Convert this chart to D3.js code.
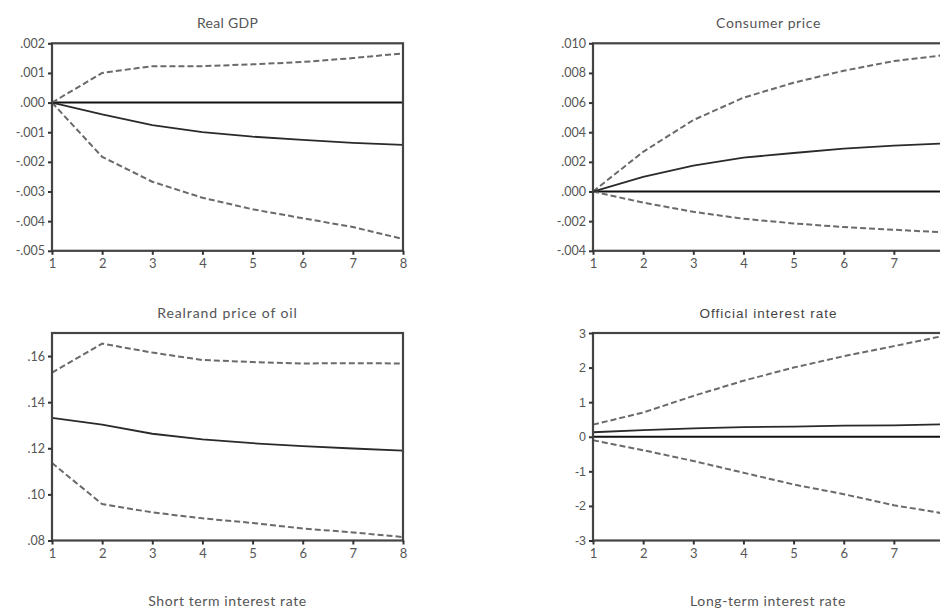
<!DOCTYPE html>
<html><head><meta charset="utf-8">
<script src="https://cdn.jsdelivr.net/npm/d3@7"></script>
<style>body{margin:0;background:#fff;overflow:hidden}svg{display:block}</style>
</head><body><svg id="c" width="940" height="608"></svg>
<script>
const periods = [1,2,3,4,5,6,7,8];

const gdpResp  = [0, -0.0004, -0.00076, -0.001, -0.00115, -0.00126, -0.00136, -0.00143];
const gdpUpper = [0, 0.001, 0.00123, 0.00123, 0.00129, 0.00137, 0.0015, 0.00166];
const gdpLower = [0, -0.00183, -0.00267, -0.00321, -0.0036, -0.0039, -0.0042, -0.0046];
const gdpTicks = [0.002,0.001,0,-0.001,-0.002,-0.003,-0.004,-0.005];

const cpiResp  = [0, 0.00098, 0.00174, 0.00228, 0.0026, 0.00289, 0.00309, 0.00325];
const cpiUpper = [0, 0.00268, 0.00482, 0.00633, 0.00734, 0.00815, 0.0088, 0.0092];
const cpiLower = [0, -0.00075, -0.00137, -0.00184, -0.00215, -0.0024, -0.00258, -0.00276];
const cpiTicks = [0.010,0.008,0.006,0.004,0.002,0,-0.002,-0.004];

const oilResp  = [0.1332, 0.1303, 0.1263, 0.1239, 0.1222, 0.1209, 0.1199, 0.1190];
const oilUpper = [0.1528, 0.1654, 0.1615, 0.1583, 0.1574, 0.1568, 0.1569, 0.1568];
const oilLower = [0.1136, 0.0958, 0.0922, 0.0896, 0.0876, 0.0852, 0.0835, 0.0815];
const oilTicks = [0.16,0.14,0.12,0.10,0.08];

const rateResp  = [0.13, 0.19, 0.24, 0.28, 0.29, 0.32, 0.33, 0.36];
const rateUpper = [0.35, 0.70, 1.18, 1.62, 2.0, 2.33, 2.62, 2.92];
const rateLower = [-0.1, -0.39, -0.70, -1.04, -1.38, -1.66, -1.98, -2.22];
const rateTicks = [3,2,1,0,-1,-2,-3];

// tick labels visible on the x axes (right-hand panels are cut at the window edge)
const xTicksLeft  = [1,2,3,4,5,6,7,8];
const xTicksRight = [1,2,3,4,5,6,7];

const titles = ["Real  GDP", "Consumer  price", "Realrand price of  oil", "Official interest rate"];
const bottomTitles = ["Short term interest rate", "Long-term interest rate"];

const svg = d3.select("#c");

const hy = s => s.replace("\u2212", "-");
const fmtDec = d => d === 0 ? ".000" : hy(d3.format(".3f")(d)).replace("0.", ".");
const fmt2 = d => hy(d3.format(".2f")(d)).replace("0.", ".");
const fmtInt = d => hy(d3.format("d")(d));

const panels = [
  {resp:gdpResp, up:gdpUpper, lo:gdpLower, ticks:gdpTicks, xt:xTicksLeft, dom:[-0.005,0.002], x0:52, y0:43.3, fmt:fmtDec, title:titles[0], font:"Lato", ls:0.3},
  {resp:cpiResp, up:cpiUpper, lo:cpiLower, ticks:cpiTicks, xt:xTicksRight, dom:[-0.004,0.010], x0:593, y0:43.3, fmt:fmtDec, title:titles[1], font:"Lato", ls:0.6},
  {resp:oilResp, up:oilUpper, lo:oilLower, ticks:oilTicks, xt:xTicksLeft, dom:[0.08,0.17], x0:52, y0:333, fmt:fmt2, title:titles[2], font:"Lato", ls:0.9},
  {resp:rateResp, up:rateUpper, lo:rateLower, ticks:rateTicks, xt:xTicksRight, dom:[-3,3], x0:593, y0:333, fmt:fmtInt, title:titles[3], font:"Liberation Sans", ls:1.0}
];
const W = 351, H = 207.5;

panels.forEach((p, i) => {
  const g = svg.append("g");
  const x = d3.scaleLinear().domain([1,8]).range([p.x0, p.x0 + W]);
  const y = d3.scaleLinear().domain(p.dom).range([p.y0 + H, p.y0]);

  g.append("text").attr("x", p.x0 + W/2).attr("y", p.y0 - 15)
    .attr("text-anchor","middle").attr("font-family", p.font)
    .attr("font-size", i === 3 ? 13.5 : 14)
    .attr("letter-spacing", p.ls).attr("fill", i === 3 ? "#444" : "#555").text(p.title);

  if (p.dom[0] < 0 && p.dom[1] > 0) {
    g.append("line").attr("x1", x(1)).attr("x2", x(8)).attr("y1", y(0)).attr("y2", y(0))
      .attr("stroke","#111").attr("stroke-width",2);
  }

  const line = d3.line().x((d,k)=>x(periods[k])).y(d=>y(d));
  [p.up, p.lo].forEach(s => g.append("path").attr("d", line(s)).attr("fill","none")
    .attr("stroke","#6a6a6a").attr("stroke-width",2).attr("stroke-dasharray","6,3"));
  g.append("path").attr("d", line(p.resp)).attr("fill","none").attr("stroke","#2a2a2a")
    .attr("stroke-width",1.8);

  g.append("rect").attr("x", p.x0).attr("y", p.y0).attr("width", W).attr("height", H)
    .attr("fill","none").attr("stroke","#444").attr("stroke-width",2.2);

  const ya = d3.axisLeft(y).tickValues(p.ticks).tickFormat(p.fmt).tickSize(4).tickPadding(3);
  const yg = g.append("g").attr("transform",`translate(${p.x0},0)`).call(ya);
  yg.select(".domain").remove();
  yg.selectAll("line").attr("stroke","#333").attr("stroke-width",2);
  yg.selectAll("text").attr("font-family", i===3 ? "Liberation Sans" : "Lato")
    .attr("font-size", 12.5).attr("fill","#555");

  const xa = d3.axisBottom(x).tickValues(p.xt).tickFormat(d3.format("d")).tickSize(4).tickPadding(4);
  const xg = g.append("g").attr("transform",`translate(0,${p.y0 + H})`).call(xa);
  xg.select(".domain").remove();
  xg.selectAll("line").attr("stroke","#333").attr("stroke-width",2);
  xg.selectAll("text").attr("font-family","Lato")
    .attr("font-size", 13).attr("fill","#555");
});

[[227.5, bottomTitles[0]],[768, bottomTitles[1]]].forEach(([cx, t]) => {
  svg.append("text").attr("x", cx).attr("y", 606).attr("text-anchor","middle")
    .attr("font-family","Lato").attr("font-size",14)
    .attr("letter-spacing",0.6).attr("fill","#555").text(t);
});
</script></body></html>
